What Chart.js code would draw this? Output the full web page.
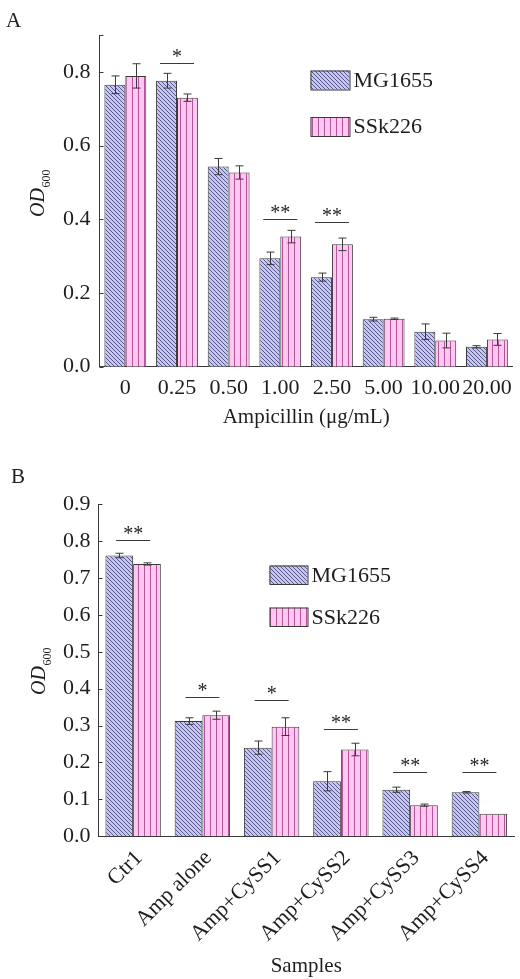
<!DOCTYPE html>
<html>
<head>
<meta charset="utf-8">
<script src="https://cdn.jsdelivr.net/npm/chart.js@4.4.1/dist/chart.umd.min.js"></script>
<style>
  html, body { margin: 0; padding: 0; background: #fff; }
  #wrap { position: relative; width: 520px; height: 979px; }
  canvas { position: absolute; left: 0; }
  #chartA { top: 0; }
  #chartB { top: 430px; }
</style>
</head>
<body>
<div id="wrap">
  <canvas id="chartA" width="520" height="430"></canvas>
  <canvas id="chartB" width="520" height="549"></canvas>
</div>
<script>
// ---- panel A: OD600 vs ampicillin dose ----
const doseLabels = ['0', '0.25', '0.50', '1.00', '2.50', '5.00', '10.00', '20.00'];
const mgDose    = [0.765, 0.776, 0.543, 0.294, 0.243, 0.129, 0.095, 0.054];
const mgDoseErr = [0.024, 0.020, 0.022, 0.017, 0.011, 0.005, 0.021, 0.003];
const ssDose    = [0.789, 0.730, 0.527, 0.353, 0.332, 0.130, 0.071, 0.074];
const ssDoseErr = [0.033, 0.010, 0.018, 0.017, 0.017, 0.002, 0.020, 0.016];
const sigDoseIdx   = [1, 3, 4];
const sigDoseLevel = [0.824, 0.402, 0.392];
const sigDoseText  = ['*', '**', '**'];
const yTickValsA = [0, 0.2, 0.4, 0.6, 0.8, 0.9];
const yTickTextA = ['0.0', '0.2', '0.4', '0.6', '0.8', ''];

// ---- panel B: OD600 per sample ----
const sampleLabels = ['Ctr1', 'Amp alone', 'Amp+CySS1', 'Amp+CySS2', 'Amp+CySS3', 'Amp+CySS4'];
const mgSample    = [0.761, 0.312, 0.240, 0.149, 0.126, 0.119];
const mgSampleErr = [0.006, 0.009, 0.018, 0.026, 0.007, 0.002];
const ssSample    = [0.738, 0.328, 0.297, 0.235, 0.084, 0.061];
const ssSampleErr = [0.003, 0.011, 0.024, 0.017, 0.003, 0];
const sigSampleIdx   = [0, 1, 2, 3, 4, 5];
const sigSampleLevel = [0.802, 0.378, 0.370, 0.291, 0.174, 0.174];
const sigSampleText  = ['**', '*', '*', '**', '**', '**'];
const yTickValsB = [0, 0.1, 0.2, 0.3, 0.4, 0.5, 0.6, 0.7, 0.8, 0.9];
const yTickTextB = ['0.0', '0.1', '0.2', '0.3', '0.4', '0.5', '0.6', '0.7', '0.8', '0.9'];

const seriesNames = ['MG1655', 'SSk226'];

const FONT = "'Liberation Serif', 'Times New Roman', serif";
const INK = '#1e1e1e';
const EDGE = '#3a3a3a';

// hatched fills like the Origin plot
function stripes(ctx, kind) {
  const c = document.createElement('canvas');
  const g = c.getContext('2d');
  if (kind == 'diag') {
    c.width = 4; c.height = 4;
    g.fillStyle = '#c6c6f2';
    g.fillRect(0, 0, 4, 4);
    g.strokeStyle = '#4c4c7c';
    g.lineWidth = 0.9;
    g.beginPath();
    g.moveTo(-1, -1); g.lineTo(5, 5);
    g.moveTo(-1, 3); g.lineTo(1, 5);
    g.moveTo(3, -1); g.lineTo(5, 1);
    g.stroke();
  } else {
    c.width = 6; c.height = 6;
    g.fillStyle = '#ffc6f2';
    g.fillRect(0, 0, 6, 6);
    g.strokeStyle = '#b0579a';
    g.lineWidth = 1;
    g.beginPath();
    g.moveTo(0.5, 0); g.lineTo(0.5, 6);
    g.stroke();
  }
  return ctx.createPattern(c, 'repeat');
}

// error bars, significance marks, legend, y title and panel letter
function overlay(cfg) {
  return {
    id: 'overlay',
    afterDatasetsDraw(chart) {
      const ctx = chart.ctx;
      const xs = chart.scales.x, ys = chart.scales.y;
      ctx.save();
      ctx.strokeStyle = EDGE;
      ctx.lineWidth = 1;

      // inward ticks on y axis
      ys.ticks.forEach(t => {
        const py = Math.round(ys.getPixelForValue(t.value)) + 0.5;
        ctx.beginPath();
        ctx.moveTo(xs.left, py);
        ctx.lineTo(xs.left + 4, py);
        ctx.stroke();
      });

      // error bars
      cfg.errors.forEach((errs, di) => {
        const meta = chart.getDatasetMeta(di);
        const vals = chart.data.datasets[di].data;
        meta.data.forEach((bar, j) => {
          const e = errs[j];
          if (!e) return;
          const px = Math.round(bar.x) + 0.5;
          const top = ys.getPixelForValue(vals[j] + e);
          const bot = ys.getPixelForValue(vals[j] - e);
          ctx.beginPath();
          ctx.moveTo(px, top); ctx.lineTo(px, bot);
          ctx.moveTo(px - 4, top); ctx.lineTo(px + 4, top);
          ctx.moveTo(px - 4, bot); ctx.lineTo(px + 4, bot);
          ctx.stroke();
        });
      });

      // significance lines and stars
      ctx.fillStyle = INK;
      ctx.font = '20px ' + FONT;
      ctx.textAlign = 'center';
      ctx.textBaseline = 'alphabetic';
      cfg.sigIdx.forEach((ci, k) => {
        const cx = xs.getPixelForValue(ci);
        const ly = Math.round(ys.getPixelForValue(cfg.sigLevel[k])) + 0.5;
        ctx.beginPath();
        ctx.moveTo(cx - 17, ly);
        ctx.lineTo(cx + 17, ly);
        ctx.stroke();
        ctx.fillText(cfg.sigText[k], cx, ly - 1);
      });

      // legend
      ctx.textAlign = 'left';
      ctx.textBaseline = 'middle';
      ctx.font = '22px ' + FONT;
      chart.data.datasets.forEach((ds, i) => {
        const lg = cfg.legend;
        const by = lg.y[i];
        ctx.fillStyle = ds.backgroundColor;
        ctx.fillRect(lg.x, by, lg.w, lg.h);
        ctx.strokeRect(lg.x + 0.5, by + 0.5, lg.w, lg.h);
        ctx.fillStyle = INK;
        ctx.fillText(ds.label, lg.x + lg.w + 4, by + lg.h / 2 + 1);
      });

      // y title: OD with subscript 600
      ctx.save();
      ctx.translate(cfg.yTitle.x, cfg.yTitle.y);
      ctx.rotate(-Math.PI / 2);
      ctx.textBaseline = 'alphabetic';
      ctx.font = 'italic 20px ' + FONT;
      ctx.fillText('OD', 0, 0);
      const w = ctx.measureText('OD').width;
      ctx.font = '12px ' + FONT;
      ctx.fillText('600', w + 0.5, 6);
      ctx.restore();

      // panel letter
      ctx.font = '21px ' + FONT;
      ctx.textBaseline = 'alphabetic';
      ctx.fillText(cfg.panel.text, cfg.panel.x, cfg.panel.y);

      ctx.restore();
    }
  };
}

function buildChart(id, cfg) {
  const canvas = document.getElementById(id);
  const ctx = canvas.getContext('2d');
  const datasets = [
    { label: seriesNames[0], data: cfg.mg, backgroundColor: stripes(ctx, 'diag'),
      borderColor: EDGE, borderWidth: 1 },
    { label: seriesNames[1], data: cfg.ss, backgroundColor: stripes(ctx, 'vert'),
      borderColor: EDGE, borderWidth: 1 }
  ];
  return new Chart(canvas, {
    type: 'bar',
    data: { labels: cfg.labels, datasets: datasets },
    options: {
      responsive: false,
      animation: false,
      events: [],
      layout: { padding: { left: 0, top: cfg.top, right: cfg.right, bottom: 0 } },
      datasets: { bar: { categoryPercentage: cfg.catPct, barPercentage: 1 } },
      plugins: { legend: { display: false }, tooltip: { enabled: false } },
      scales: {
        x: {
          grid: { display: false, drawTicks: false },
          border: { display: true, color: EDGE, width: 1 },
          ticks: {
            color: INK, font: { family: FONT, size: 22 },
            padding: cfg.xPad, autoSkip: false,
            maxRotation: cfg.rot, minRotation: cfg.rot, labelOffset: cfg.labelOffset
          },
          title: {
            display: true, text: cfg.xTitle, color: INK,
            font: { family: FONT, size: 21 }, padding: { top: 0, bottom: cfg.titlePad }
          },
          afterFit: s => { s.height = cfg.xHeight; }
        },
        y: {
          min: 0, max: 0.9,
          grid: { display: false, drawTicks: false },
          border: { display: true, color: EDGE, width: 1 },
          afterBuildTicks: s => { s.ticks = cfg.yVals.map(v => ({ value: v })); },
          ticks: {
            color: INK, font: { family: FONT, size: 22 }, padding: cfg.yPad,
            callback: (v, i) => cfg.yText[i]
          },
          afterFit: s => { s.width = cfg.yWidth; }
        }
      }
    },
    plugins: [overlay(cfg)]
  });
}

buildChart('chartA', {
  labels: doseLabels, mg: mgDose, ss: ssDose, errors: [mgDoseErr, ssDoseErr],
  sigIdx: sigDoseIdx, sigLevel: sigDoseLevel, sigText: sigDoseText,
  yVals: yTickValsA, yText: yTickTextA,
  top: 35, right: 5, yWidth: 99.5, xHeight: 63.3, catPct: 0.81,
  xPad: 8, yPad: 9, rot: 0, labelOffset: 0, titlePad: 0,
  xTitle: 'Ampicillin (\u03bcg/mL)',
  legend: { x: 310.5, y: [70.5, 117], w: 39, h: 19 },
  yTitle: { x: 43.5, y: 217 },
  panel: { text: 'A', x: 6, y: 26.5 }
});

buildChart('chartB', {
  labels: sampleLabels, mg: mgSample, ss: ssSample, errors: [mgSampleErr, ssSampleErr],
  sigIdx: sigSampleIdx, sigLevel: sigSampleLevel, sigText: sigSampleText,
  yVals: yTickValsB, yText: yTickTextB,
  top: 74.2, right: 6, yWidth: 98.5, xHeight: 142.8, catPct: 0.8,
  xPad: 9, yPad: 8, rot: 45, labelOffset: 6, titlePad: 0,
  xTitle: 'Samples',
  legend: { x: 269.5, y: [135.5, 177.5], w: 38, h: 18.5 },
  yTitle: { x: 45, y: 265 },
  panel: { text: 'B', x: 11, y: 52.5 }
});
</script>
</body>
</html>
